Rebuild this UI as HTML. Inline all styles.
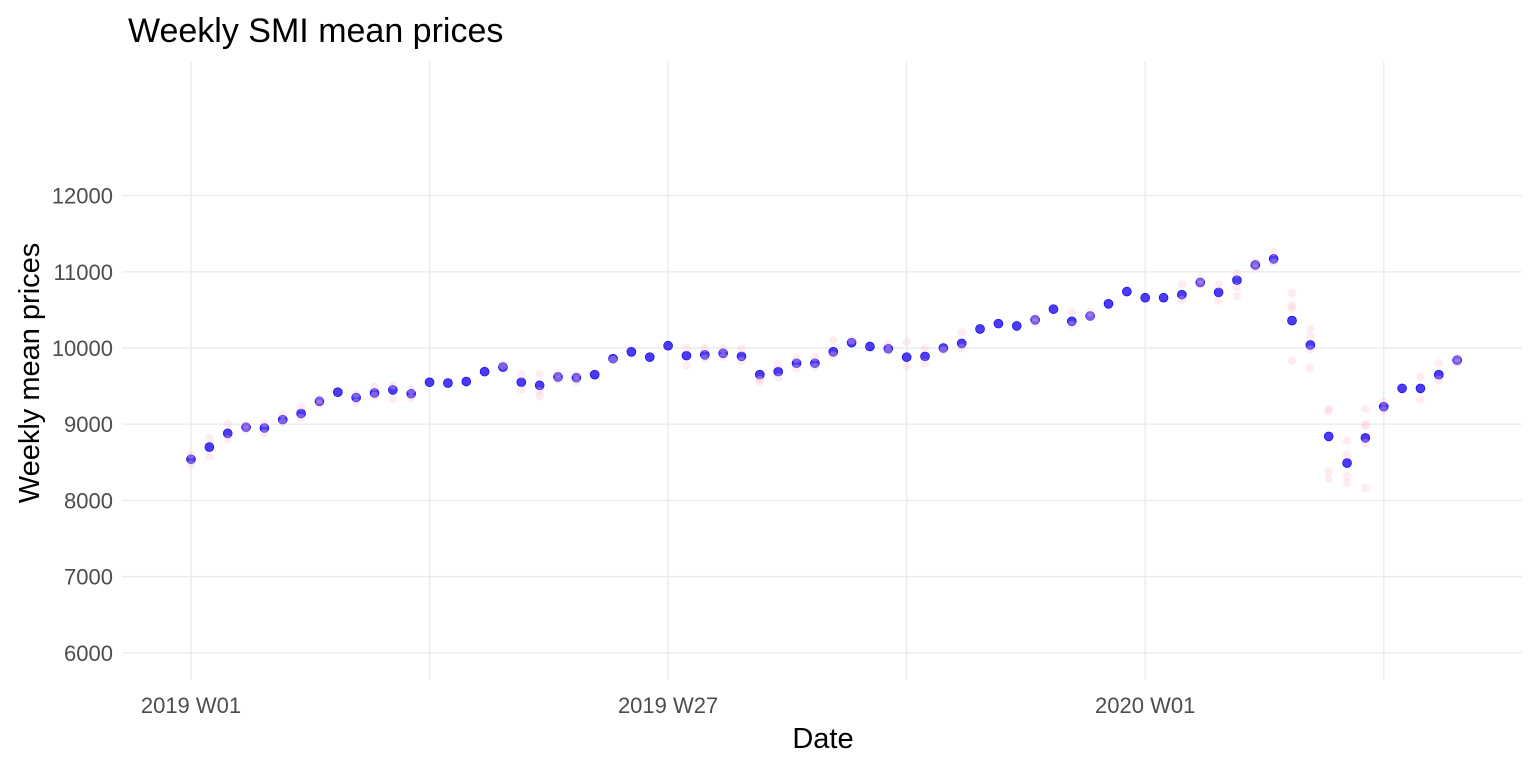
<!DOCTYPE html>
<html><head><meta charset="utf-8"><style>
body{margin:0;background:#fff}
svg{display:block;font-family:"Liberation Sans",Arial,sans-serif}
</style></head><body>
<svg id="chart" width="1536" height="768" viewBox="0 0 1536 768">
<text x="128" y="42" font-size="34" fill="#000">Weekly SMI mean prices</text>
<g id="grid"></g>
<g id="yticks"></g>
<g id="xticks"></g>
<g id="marks"></g>
<text x="823" y="748" font-size="29" text-anchor="middle" fill="#000">Date</text>
<text transform="translate(39,373) rotate(-90)" font-size="29" text-anchor="middle" fill="#000">Weekly mean prices</text>
</svg>
<script>
const weekIndex = Array.from({length:70},(_, i)=>i);
const weeklyMeans = [8540,8700,8880,8960,8950,9060,9140,9300,9420,9350,9410,9450,9400,9550,9540,9560,9690,9750,9550,9510,9620,9610,9650,9860,9950,9880,10030,9900,9910,9930,9890,9650,9690,9800,9800,9950,10070,10020,9990,9880,9890,10000,10060,10250,10320,10290,10370,10510,10350,10420,10580,10740,10660,10660,10700,10860,10730,10890,11090,11170,10360,10040,8840,8490,8820,9230,9470,9470,9650,9840];
const dailyExtras = {0:[8470,8600],1:[8580,8820],2:[8800,9010],3:[9000,8920],4:[8880,9010],5:[9130,9020],6:[9080,9230],7:[9260,9330],9:[9280,9400],10:[9370,9490],11:[9330,9510],12:[9340,9450],17:[9770],18:[9450,9650],19:[9370,9430,9660],20:[9580,9670],21:[9560,9650],23:[9840],27:[9770,10000],28:[9860,10000],29:[9880,9990],30:[9830,9990],31:[9560,9580],32:[9610,9790],33:[9730,9860],34:[9750,9880],35:[9900,10100],36:[10100],38:[9960,10060],39:[9760,10080],40:[9800,10000],41:[9970],42:[10000,10200],46:[10330,10400],48:[10300,10470],49:[10400,10470],54:[10630,10830],55:[10830,10900],56:[10620,10830],57:[10680,10800,10980],58:[11040,11120],59:[11120,11260],60:[10720,10560,10520,9830],61:[10250,10150,9980,9740],62:[9200,9170,8380,8280],63:[8780,8600,8320,8230],64:[9200,9000,8980,8750,8160],65:[9180,9300],67:[9320,9620],68:[9580,9800],69:[9800,9870]};
const yTicks = [6000,7000,8000,9000,10000,11000,12000];
const xTickWeeks = [0,26,52];
const xTickLabels = ["2019 W01","2019 W27","2020 W01"];
const xMinorWeeks = [13,39,65];

const NS="http://www.w3.org/2000/svg";
const X = w => 191 + w*18.35;
const Y = v => 348 - (v-10000)*0.0762;
const L=122,R=1522,T=62,B=680;
function mk(tag,attrs,parent){const e=document.createElementNS(NS,tag);for(const k in attrs)e.setAttribute(k,attrs[k]);parent.appendChild(e);return e;}
const grid=document.getElementById('grid'),yt=document.getElementById('yticks'),xt=document.getElementById('xticks'),marks=document.getElementById('marks');
yTicks.forEach(v=>{
  const l=mk('line',{x1:L,x2:R,y1:Y(v),y2:Y(v),stroke:'#ebebeb','stroke-width':1.4},grid);
  
  
  const t=mk('text',{x:113,y:Y(v)+8,'font-size':22,'text-anchor':'end',fill:'#4d4d4d'},yt);
  t.textContent=v;
  
  
});
xMinorWeeks.forEach(w=>{
  const l=mk('line',{x1:X(w),x2:X(w),y1:T,y2:B,stroke:'#ebebeb','stroke-width':1.4},grid);
  
  
});
xTickWeeks.forEach((w,i)=>{
  const l=mk('line',{x1:X(w),x2:X(w),y1:T,y2:B,stroke:'#ebebeb','stroke-width':1.4},grid);
  
  
  const t=mk('text',{x:X(w),y:713,'font-size':22,'text-anchor':'middle',fill:'#4d4d4d'},xt);
  t.textContent=xTickLabels[i];
  
  
});
weekIndex.forEach(w=>{
  const c=mk('circle',{cx:X(w),cy:Y(weeklyMeans[w]),r:4.8,fill:'#0000ff'},marks);
  
  
});
weekIndex.forEach(w=>{
  const vals=[weeklyMeans[w]].concat(dailyExtras[w]||[]);
  vals.forEach(v=>{
    const c=mk('circle',{cx:X(w),cy:Y(v),r:4.2,fill:'#ffc0cb','fill-opacity':0.3},marks);
    
    
  });
});
</script>
</body></html>
